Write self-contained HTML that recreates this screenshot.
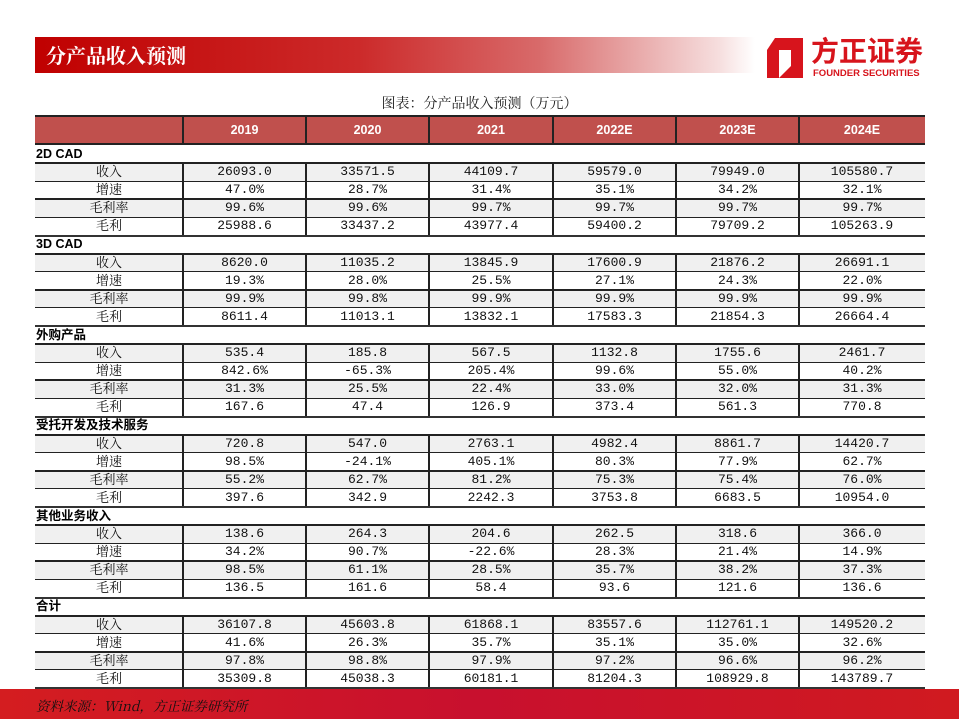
<!DOCTYPE html>
<html><head><meta charset="utf-8">
<style>
body{margin:0;width:959px;height:719px;position:relative;background:#fff;overflow:hidden;font-family:"Liberation Sans","Noto Sans CJK SC",sans-serif;}
.abs{position:absolute;}
.cell{position:absolute;text-align:center;font-family:"Liberation Mono","Noto Sans CJK SC",monospace;font-size:13px;color:#111;line-height:18px;}
.lbl{font-family:"Noto Serif CJK SC","Noto Sans CJK SC",serif;line-height:16px;}
.sec{position:absolute;left:36px;font-weight:bold;font-size:12.5px;font-family:"Liberation Sans","Noto Sans CJK SC",sans-serif;line-height:17px;}
.hdr{position:absolute;top:115px;height:30px;line-height:30px;color:#fff;font-weight:bold;font-size:12.5px;text-align:center;}
</style></head><body>
<div class="abs" style="left:35px;top:37px;width:720px;height:36px;background:linear-gradient(90deg,#c00000 0%,#cc2a2a 45%,#d86a6a 70%,#f6dede 95%,#fff 100%);"></div>
<div class="abs" style="left:46px;top:42px;color:#fff;font-size:20px;font-weight:bold;font-family:'Noto Serif CJK SC','Noto Sans CJK SC',serif;line-height:26px;">分产品收入预测</div>
<svg class="abs" style="left:767px;top:38px" width="36" height="40" viewBox="0 0 36 40"><path d="M8 0H36V12H24L12 28V40H0V12Z" fill="#d7141c"/><path d="M12 12H24V28H12Z" fill="#fff"/><path d="M24 12L36 0V40H12L24 28Z" fill="#d7141c"/></svg>
<div class="abs" style="left:811px;top:34px;color:#d7141c;font-size:28px;font-weight:bold;font-family:'Noto Sans CJK SC',sans-serif;line-height:32px;letter-spacing:0px;">方正证券</div>
<div class="abs" style="left:813px;top:68px;color:#d7141c;font-size:9.5px;font-weight:bold;line-height:11px;">FOUNDER SECURITIES</div>
<div class="abs" style="left:0;width:959px;top:94px;text-align:center;font-size:14px;font-family:'Noto Serif CJK SC',serif;line-height:18px;color:#222;">图表：分产品收入预测（万元）</div>
<div class="abs" style="left:0;top:689px;width:959px;height:30px;background:linear-gradient(90deg,#d41d20,#c8102e 50%,#d01a20);"></div>
<div class="abs" style="left:36px;top:695px;font-size:13.5px;font-style:italic;font-family:'Noto Serif CJK SC',serif;line-height:20px;color:#111;">资料来源：Wind，方正证券研究所</div>
<div id="tbl"></div>
<script>
const years=["2019","2020","2021","2022E","2023E","2024E"];
const sections=["2D CAD","3D CAD","外购产品","受托开发及技术服务","其他业务收入","合计"];
const metrics=["收入","增速","毛利率","毛利"];
const d2=[["26093.0","33571.5","44109.7","59579.0","79949.0","105580.7"],["47.0%","28.7%","31.4%","35.1%","34.2%","32.1%"],["99.6%","99.6%","99.7%","99.7%","99.7%","99.7%"],["25988.6","33437.2","43977.4","59400.2","79709.2","105263.9"]];
const d3=[["8620.0","11035.2","13845.9","17600.9","21876.2","26691.1"],["19.3%","28.0%","25.5%","27.1%","24.3%","22.0%"],["99.9%","99.8%","99.9%","99.9%","99.9%","99.9%"],["8611.4","11013.1","13832.1","17583.3","21854.3","26664.4"]];
const dw=[["535.4","185.8","567.5","1132.8","1755.6","2461.7"],["842.6%","-65.3%","205.4%","99.6%","55.0%","40.2%"],["31.3%","25.5%","22.4%","33.0%","32.0%","31.3%"],["167.6","47.4","126.9","373.4","561.3","770.8"]];
const dt=[["720.8","547.0","2763.1","4982.4","8861.7","14420.7"],["98.5%","-24.1%","405.1%","80.3%","77.9%","62.7%"],["55.2%","62.7%","81.2%","75.3%","75.4%","76.0%"],["397.6","342.9","2242.3","3753.8","6683.5","10954.0"]];
const dq=[["138.6","264.3","204.6","262.5","318.6","366.0"],["34.2%","90.7%","-22.6%","28.3%","21.4%","14.9%"],["98.5%","61.1%","28.5%","35.7%","38.2%","37.3%"],["136.5","161.6","58.4","93.6","121.6","136.6"]];
const dh=[["36107.8","45603.8","61868.1","83557.6","112761.1","149520.2"],["41.6%","26.3%","35.7%","35.1%","35.0%","32.6%"],["97.8%","98.8%","97.9%","97.2%","96.6%","96.2%"],["35309.8","45038.3","60181.1","81204.3","108929.8","143789.7"]];
const allData=[d2,d3,dw,dt,dq,dh];
const colX=[35,183,306,429,553,676,799,925];
const root=document.getElementById('tbl');
function box(css){const e=document.createElement('div');e.className='abs';e.style.cssText=css;root.appendChild(e);return e;}
let h=box(`left:35px;top:115px;width:890px;height:30px;background:#c0504d;border-top:2px solid #222;border-bottom:2px solid #222;box-sizing:border-box;`);


years.forEach((y,i)=>{const e=document.createElement('div');e.className='hdr';e.style.left=colX[i+1]+'px';e.style.width=(colX[i+2]-colX[i+1])+'px';e.textContent=y;root.appendChild(e);


box(`left:${colX[i+1]-1}px;top:115px;width:2px;height:30px;background:#222;`);});
const rowH=18.1;
sections.forEach((s,si)=>{
 const top=145+si*rowH*5;
 const sl=document.createElement('div');sl.className='sec';sl.style.top=(top+0.5)+'px';sl.textContent=s;root.appendChild(sl);
 
 
 metrics.forEach((m,mi)=>{
  const y=top+rowH*(mi+1);
  const r=box(`left:35px;top:${y}px;width:890px;height:${rowH}px;background:${mi%2==0?'#f0f0f0':'#fff'};`);
  
  
  const thick=(mi==0||mi==2);
  box(`left:35px;top:${y-(thick?1:0.5)}px;width:890px;height:${thick?2:1}px;background:#222;`);
  const lc=document.createElement('div');lc.className='cell lbl';lc.style.cssText+=`left:35px;width:148px;top:${y}px;`;lc.textContent=m;root.appendChild(lc);
  
  
  allData[si][mi].forEach((v,ci)=>{
   const c=document.createElement('div');c.className='cell';c.style.cssText+=`left:${colX[ci+1]}px;width:${colX[ci+2]-colX[ci+1]}px;top:${y}px;`;c.textContent=v;root.appendChild(c);
   
   
  });
  for(let k=1;k<7;k++)box(`left:${colX[k]-1}px;top:${y}px;width:1.5px;height:${rowH}px;background:#222;`);
 });
 box(`left:35px;top:${top+rowH*5-1}px;width:890px;height:2px;background:#333;`);
});
</script>
</body></html>
